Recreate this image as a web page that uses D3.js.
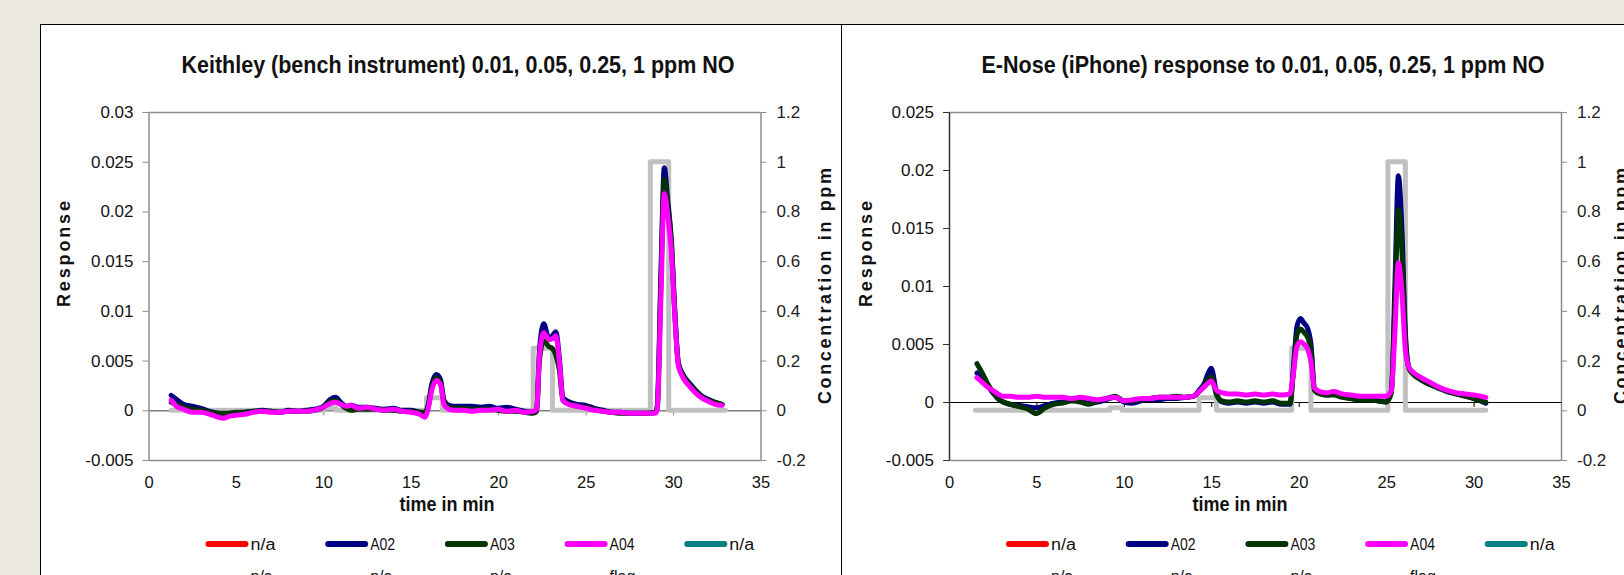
<!DOCTYPE html>
<html>
<head>
<meta charset="utf-8">
<script src="https://cdn.jsdelivr.net/npm/d3@7"></script>
<style>
  body { margin: 0; background: #ece9df; }
  svg { display: block; font-family: "Liberation Sans", Arial, sans-serif; }
</style>
</head>
<body>
<div id="chart"></div>
<script>
// ---- data ----
const keithleyTime = [1.3, 1.6, 2.0, 2.5, 3.0, 3.5, 4.0, 4.3, 4.6, 5.0, 5.5, 6.0, 6.5, 7.0, 7.5, 8.0, 8.5, 9.0, 9.5, 10.0,
  10.4, 10.7, 11.0, 11.3, 11.6, 12.0, 12.5, 13.0, 13.5, 14.0, 14.5, 15.0, 15.5, 15.8, 16.0, 16.2, 16.45, 16.7, 16.9, 17.2,
  17.6, 18.0, 18.5, 19.0, 19.5, 20.0, 20.5, 21.0, 21.5, 22.0, 22.2, 22.35, 22.6, 22.9, 23.1, 23.3, 23.5, 23.7, 24.0, 24.5,
  25.0, 25.5, 26.0, 26.5, 27.0, 27.5, 28.0, 28.5, 29.0, 29.1, 29.3, 29.5, 29.7, 29.9, 30.1, 30.3, 30.6, 30.9, 31.2, 31.6,
  32.0, 32.4, 32.8];
const keithleyA02 = [0.0015, 0.0011, 0.0006, 0.0004, 0.0002, -0.0001, -0.0003, -0.0004, -0.0004, -0.0003,
  -0.0002, -0.0001, 0.0000, -0.0001, -0.0002, 0.0000, -0.0001, 0.0000, 0.0001, 0.0004,
  0.0011, 0.0013, 0.0008, 0.0004, 0.0005, 0.0003, 0.0003, 0.0002, 0.0001, 0.0002,
  0.0000, 0.0000, -0.0002, -0.0003, 0.0006, 0.0026, 0.0036, 0.0031, 0.0010, 0.0005,
  0.0004, 0.0004, 0.0004, 0.0003, 0.0004, 0.0002, 0.0003, 0.0001, -0.0001, -0.0002,
  0.0000, 0.0058, 0.0087, 0.0072, 0.0075, 0.0079, 0.0052, 0.0013, 0.0009, 0.0006,
  0.0005, 0.0002, 0.0000, -0.0002, -0.0002, -0.0003, -0.0003, -0.0003, -0.0002, 0.0005,
  0.0135, 0.0244, 0.0210, 0.0172, 0.0100, 0.0048, 0.0035, 0.0028, 0.0022, 0.0015,
  0.0011, 0.0008, 0.0006];
const keithleyA03 = [0.0008, 0.0006, 0.0003, 0.0001, 0.0000, -0.0002, -0.0003, -0.0003, -0.0003, -0.0002,
  -0.0002, -0.0001, -0.0001, -0.0001, -0.0002, -0.0001, -0.0001, -0.0001, 0.0000, 0.0003,
  0.0009, 0.0010, 0.0006, 0.0002, 0.0000, 0.0001, 0.0001, 0.0001, 0.0000, 0.0000,
  -0.0001, -0.0001, -0.0002, -0.0002, 0.0004, 0.0023, 0.0033, 0.0028, 0.0008, 0.0003,
  0.0002, 0.0002, 0.0001, 0.0001, 0.0001, 0.0000, -0.0001, -0.0001, -0.0002, -0.0003,
  -0.0001, 0.0048, 0.0070, 0.0064, 0.0062, 0.0055, 0.0040, 0.0010, 0.0007, 0.0004,
  0.0003, 0.0001, -0.0001, -0.0002, -0.0003, -0.0003, -0.0003, -0.0003, -0.0002, 0.0003,
  0.0125, 0.0232, 0.0205, 0.0168, 0.0098, 0.0047, 0.0034, 0.0027, 0.0021, 0.0014,
  0.0010, 0.0008, 0.0006];
const keithleyA04 = [0.0010, 0.0004, 0.0001, -0.0002, -0.0002, -0.0004, -0.0007, -0.0008, -0.0006, -0.0005,
  -0.0004, -0.0002, -0.0001, -0.0002, -0.0002, -0.0001, -0.0001, -0.0001, 0.0000, 0.0003,
  0.0007, 0.0008, 0.0006, 0.0004, 0.0005, 0.0002, 0.0003, 0.0001, 0.0000, 0.0001,
  -0.0001, -0.0002, -0.0004, -0.0007, 0.0002, 0.0020, 0.0030, 0.0026, 0.0006, 0.0001,
  0.0000, 0.0000, -0.0001, 0.0000, 0.0000, 0.0001, -0.0001, 0.0000, -0.0002, -0.0001,
  0.0001, 0.0052, 0.0078, 0.0071, 0.0072, 0.0075, 0.0048, 0.0010, 0.0006, 0.0004,
  0.0002, 0.0000, -0.0001, -0.0002, -0.0002, -0.0003, -0.0003, -0.0003, -0.0003, 0.0002,
  0.0110, 0.0218, 0.0195, 0.0160, 0.0095, 0.0045, 0.0032, 0.0025, 0.0019, 0.0013,
  0.0009, 0.0006, 0.0005];
const keithleyFlagTime = [1.3, 10.0, 10.7, 15.9, 16.8, 22.0, 23.1, 28.7, 29.75, 33.0];
const keithleyFlagPpm = [0, 0.01, 0, 0.05, 0, 0.25, 0, 1, 0, 0];

const enoseTime = [1.6, 1.9, 2.2, 2.5, 2.8, 3.1, 3.5, 4.0, 4.5, 5.0, 5.5, 6.0, 6.5, 7.0, 7.5, 8.0, 8.5, 9.0, 9.5, 10.0,
  10.5, 11.0, 11.5, 12.0, 12.5, 13.0, 13.5, 14.0, 14.3, 14.6, 14.8, 15.0, 15.3, 15.6, 16.0, 16.5, 17.0, 17.5, 18.0, 18.5,
  19.0, 19.5, 19.7, 19.9, 20.1, 20.3, 20.5, 20.7, 20.9, 21.2, 21.6, 22.0, 22.5, 23.0, 23.5, 24.0, 24.5, 25.0, 25.3, 25.5,
  25.7, 25.9, 26.1, 26.3, 26.6, 27.0, 27.5, 28.0, 28.5, 29.0, 29.5, 30.0, 30.4, 30.7];
const enoseA02 = [0.0025, 0.0020, 0.0014, 0.0008, 0.0003, 0.0000, -0.0002, -0.0003, -0.0004, -0.0005,
  -0.0003, -0.0001, 0.0000, 0.0001, 0.0001, -0.0001, 0.0000, 0.0002, 0.0004, 0.0000,
  -0.0001, 0.0001, 0.0002, 0.0002, 0.0003, 0.0003, 0.0004, 0.0005, 0.0010, 0.0016,
  0.0024, 0.0029, 0.0008, 0.0000, -0.0001, 0.0000, -0.0001, 0.0000, -0.0001, 0.0000,
  -0.0002, -0.0002, 0.0030, 0.0065, 0.0072, 0.0068, 0.0064, 0.0050, 0.0012, 0.0008,
  0.0006, 0.0007, 0.0005, 0.0003, 0.0002, 0.0002, 0.0001, 0.0000, 0.0010, 0.0100,
  0.0195, 0.0150, 0.0060, 0.0030, 0.0024, 0.0019, 0.0015, 0.0012, 0.0009, 0.0007,
  0.0005, 0.0003, 0.0001, -0.0001];
const enoseA03 = [0.0033, 0.0025, 0.0016, 0.0009, 0.0003, 0.0000, -0.0002, -0.0004, -0.0006, -0.0010,
  -0.0005, -0.0002, -0.0001, 0.0001, 0.0000, -0.0002, 0.0001, 0.0003, 0.0005, 0.0001,
  0.0001, 0.0002, 0.0003, 0.0004, 0.0004, 0.0005, 0.0004, 0.0005, 0.0009, 0.0014,
  0.0019, 0.0022, 0.0006, 0.0001, 0.0000, 0.0001, 0.0000, 0.0001, 0.0000, 0.0001,
  -0.0001, -0.0001, 0.0026, 0.0058, 0.0063, 0.0060, 0.0056, 0.0045, 0.0010, 0.0007,
  0.0006, 0.0006, 0.0004, 0.0003, 0.0002, 0.0002, 0.0001, 0.0000, 0.0008, 0.0085,
  0.0166, 0.0130, 0.0055, 0.0029, 0.0023, 0.0019, 0.0015, 0.0012, 0.0009, 0.0007,
  0.0005, 0.0003, 0.0001, 0.0000];
const enoseA04 = [0.0021, 0.0017, 0.0013, 0.0010, 0.0007, 0.0005, 0.0005, 0.0004, 0.0004, 0.0005,
  0.0004, 0.0004, 0.0004, 0.0003, 0.0004, 0.0003, 0.0002, 0.0003, 0.0004, 0.0001,
  0.0002, 0.0003, 0.0003, 0.0004, 0.0004, 0.0004, 0.0004, 0.0005, 0.0009, 0.0013,
  0.0016, 0.0018, 0.0010, 0.0008, 0.0007, 0.0007, 0.0006, 0.0007, 0.0006, 0.0007,
  0.0006, 0.0007, 0.0025, 0.0048, 0.0052, 0.0050, 0.0046, 0.0035, 0.0012, 0.0009,
  0.0008, 0.0009, 0.0007, 0.0006, 0.0005, 0.0005, 0.0005, 0.0005, 0.0010, 0.0060,
  0.0120, 0.0095, 0.0045, 0.0030, 0.0025, 0.0021, 0.0017, 0.0013, 0.0010, 0.0008,
  0.0007, 0.0006, 0.0005, 0.0004];
const enoseFlagTime = [1.5, 9.2, 9.9, 14.3, 15.3, 19.6, 20.7, 25.1, 26.1, 30.7];
const enoseFlagPpm = [0, 0.01, 0, 0.05, 0, 0.25, 0, 1, 0, 0];

const timeTicks = [0, 5, 10, 15, 20, 25, 30, 35];
const keithleyTicks = [-0.005, 0, 0.005, 0.01, 0.015, 0.02, 0.025, 0.03];
const enoseTicks = [-0.005, 0, 0.005, 0.01, 0.015, 0.02, 0.025];
const ppmTicks = [-0.2, 0, 0.2, 0.4, 0.6, 0.8, 1, 1.2];

const legendRow1 = ["n/a", "A02", "A03", "A04", "n/a"];
const legendRow2 = ["n/a", "n/a", "n/a", "flag"];

const colors = { A02: "#000080", A03: "#003300", A04: "#ff00ff", flag: "#c0c0c0" };
const legendColors1 = ["#ff0000", "#000080", "#003300", "#ff00ff", "#008080"];
const legendColors2 = ["#ffcc00", "#800000", "#808000", "#c0c0c0"];

const W = 1624, H = 575;
const svg = d3.select("#chart").append("svg").attr("width", W).attr("height", H);
svg.append("rect").attr("width", W).attr("height", H).attr("fill", "#ece9df");

function drawPanel(p) {
  const g = svg.append("g");
  g.append("rect")
    .attr("x", p.boxX + 0.5).attr("y", 24.5)
    .attr("width", p.boxW).attr("height", 700)
    .attr("fill", "#fff").attr("stroke", "#000");

  const x = d3.scaleLinear().domain([0, 35]).range([p.x0, p.x0 + 612]);
  const y = d3.scaleLinear().domain([-0.005, p.yMax]).range([460, 112]);
  const y2 = d3.scaleLinear().domain([-0.2, 1.2]).range([460, 112]);

  // plot frame top / bottom
  g.append("line").attr("x1", x(0)).attr("x2", x(35)).attr("y1", 112.5).attr("y2", 112.5)
    .attr("stroke", "#8c8c8c").attr("stroke-width", 1.5);
  g.append("line").attr("x1", x(0)).attr("x2", x(35)).attr("y1", 460.5).attr("y2", 460.5)
    .attr("stroke", "#8c8c8c").attr("stroke-width", 1.5);

  // left axis
  const ya = g.append("g").attr("transform", `translate(${x(0)},0)`)
    .call(d3.axisLeft(y).tickValues(p.yTicks).tickSize(6).tickSizeOuter(0).tickPadding(9)
      .tickFormat(d => String(+d.toFixed(3))));
  ya.select(".domain").attr("stroke", p.leftAxisColor).attr("stroke-width", 1.5);
  ya.selectAll(".tick line").attr("stroke", p.leftAxisColor);
  ya.selectAll("text").attr("font-size", 17).attr("fill", "#111").attr("font-family", "Liberation Sans, Arial, sans-serif");

  // right axis
  const yb = g.append("g").attr("transform", `translate(${x(35)},0)`)
    .call(d3.axisRight(y2).tickValues(ppmTicks).tickSize(6).tickSizeOuter(0).tickPadding(10)
      .tickFormat(d => String(+d.toFixed(1))));
  yb.select(".domain").attr("stroke", "#8c8c8c").attr("stroke-width", 1.5);
  yb.selectAll(".tick line").attr("stroke", "#8c8c8c");
  yb.selectAll("text").attr("font-size", 17).attr("fill", "#222").attr("font-family", "Liberation Sans, Arial, sans-serif");

  // x axis line at zero with ticks
  const xa = g.append("g").attr("transform", `translate(0,${y(0)})`)
    .call(d3.axisBottom(x).tickValues(timeTicks.slice(1, -1)).tickSize(5).tickSizeOuter(0).tickFormat(""));
  xa.select(".domain").attr("stroke", p.zeroColor).attr("stroke-width", p.zeroWidth);
  xa.selectAll(".tick line").attr("stroke", p.zeroColor);

  // x tick labels at the bottom
  const xl = g.append("g").attr("transform", `translate(0,460)`)
    .call(d3.axisBottom(x).tickValues(timeTicks).tickSize(0).tickPadding(16));
  xl.select(".domain").remove();
  xl.selectAll("text").attr("font-size", 16.5).attr("fill", "#111").attr("font-family", "Liberation Sans, Arial, sans-serif");

  // series
  const line = d3.line().x(d => x(d[0])).y(d => y(d[1])).curve(d3.curveMonotoneX);
  const step = d3.line().x(d => x(d[0])).y(d => y2(d[1])).curve(d3.curveStepAfter);

  g.append("path").datum(d3.zip(p.flagTime, p.flagPpm))
    .attr("d", step).attr("fill", "none").attr("stroke", colors.flag)
    .attr("stroke-width", 5).attr("stroke-linejoin", "round").attr("stroke-linecap", "round");

  [["A02", p.a02], ["A03", p.a03], ["A04", p.a04]].forEach(([k, vals]) => {
    g.append("path").datum(d3.zip(p.time, vals))
      .attr("d", line).attr("fill", "none").attr("stroke", colors[k])
      .attr("stroke-width", 5).attr("stroke-linejoin", "round").attr("stroke-linecap", "round");
  });

  // titles
  g.append("text").attr("x", p.titleX).attr("y", 73).attr("text-anchor", "middle")
    .attr("font-size", 23).attr("font-weight", "bold").attr("fill", "#111")
    .attr("textLength", p.titleLen).attr("lengthAdjust", "spacingAndGlyphs")
    .text(p.title);
  g.append("text").attr("x", p.xTitleX).attr("y", 511).attr("text-anchor", "middle")
    .attr("font-size", 21).attr("font-weight", "bold").attr("fill", "#111")
    .attr("textLength", 95).attr("lengthAdjust", "spacingAndGlyphs")
    .text("time in min");
  g.append("text").attr("transform", `translate(${p.respX},254) rotate(-90)`)
    .attr("text-anchor", "middle").attr("dy", "0.35em")
    .attr("font-size", 18).attr("font-weight", "bold").attr("fill", "#111")
    .attr("textLength", 106).attr("lengthAdjust", "spacing")
    .text("Response");
  g.append("text").attr("transform", `translate(${p.concX},286) rotate(-90)`)
    .attr("text-anchor", "middle").attr("dy", "0.35em")
    .attr("font-size", 18).attr("font-weight", "bold").attr("fill", "#111")
    .attr("textLength", 236).attr("lengthAdjust", "spacing")
    .text("Concentration in ppm");

  // legend
  const lx = p.x0 + 60, step2 = 119.7;
  legendRow1.forEach((lab, i) => {
    const gx = lx + i * step2;
    g.append("line").attr("x1", gx).attr("x2", gx + 37).attr("y1", 544).attr("y2", 544)
      .attr("stroke", legendColors1[i]).attr("stroke-width", 6).attr("stroke-linecap", "round");
    g.append("text").attr("x", gx + 42).attr("y", 544).attr("dy", "0.36em")
      .attr("font-size", 16).attr("fill", "#111").attr("textLength", lab.length * 8.3).attr("lengthAdjust", "spacingAndGlyphs")
      .text(lab);
  });
  legendRow2.forEach((lab, i) => {
    const gx = lx + i * step2;
    g.append("line").attr("x1", gx).attr("x2", gx + 37).attr("y1", 580).attr("y2", 580)
      .attr("stroke", legendColors2[i]).attr("stroke-width", 6).attr("stroke-linecap", "round");
    g.append("text").attr("x", gx + 42).attr("y", 582)
      .attr("font-size", 16).attr("fill", "#111")
      .text(lab);
  });
}

drawPanel({
  boxX: 40, boxW: 801, x0: 148.5, yMax: 0.03, yTicks: keithleyTicks,
  leftAxisColor: "#8c8c8c", zeroColor: "#7f7f7f", zeroWidth: 1.5,
  time: keithleyTime, a02: keithleyA02, a03: keithleyA03, a04: keithleyA04,
  flagTime: keithleyFlagTime, flagPpm: keithleyFlagPpm,
  title: "Keithley (bench instrument) 0.01, 0.05, 0.25, 1 ppm NO", titleX: 458, titleLen: 553,
  xTitleX: 447, respX: 64, concX: 825
});
drawPanel({
  boxX: 841, boxW: 900, x0: 949, yMax: 0.025, yTicks: enoseTicks,
  leftAxisColor: "#333", zeroColor: "#000", zeroWidth: 1,
  time: enoseTime, a02: enoseA02, a03: enoseA03, a04: enoseA04,
  flagTime: enoseFlagTime, flagPpm: enoseFlagPpm,
  title: "E-Nose (iPhone) response to 0.01, 0.05, 0.25, 1 ppm NO", titleX: 1263, titleLen: 563,
  xTitleX: 1240, respX: 866, concX: 1621
});
</script>
</body>
</html>
